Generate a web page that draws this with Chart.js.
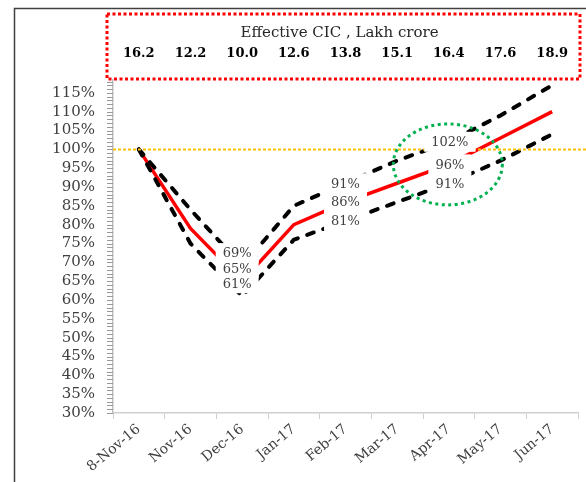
<!DOCTYPE html>
<html>
<head>
<meta charset="utf-8">
<script src="https://cdn.jsdelivr.net/npm/chart.js@4/dist/chart.umd.min.js"></script>
<style>
  html, body { margin: 0; padding: 0; background: #ffffff; }
  #wrap { position: relative; width: 586px; height: 482px; }
  canvas { display: block; }
</style>
</head>
<body>
<div id="wrap"><canvas id="c" width="586" height="482"></canvas></div>
<script>
// ---- Data ----
const categories = ['8-Nov-16', 'Nov-16', 'Dec-16', 'Jan-17', 'Feb-17', 'Mar-17', 'Apr-17', 'May-17', 'Jun-17'];
const cicValues = ['16.2', '12.2', '10.0', '12.6', '13.8', '15.1', '16.4', '17.6', '18.9'];
const upperBand = [100, 84, 69, 85, 91, 97, 102, 109, 117];
const central   = [100, 79, 65, 80, 86, 91, 96, 103, 110];
const lowerBand = [100, 75, 61, 76, 81, 86, 91, 97, 104];
const labelledPoints = [2, 4, 6];
const yMin = 30, yMax = 120, yLabelStep = 5, yMinorStep = 1;
const referenceLevel = 100;
const highlightIndex = 6, highlightValue = 96;
const boxTitle = 'Effective CIC , Lakh crore';

// ---- Styles / layout (not data) ----
const SERIF = '"DejaVu Serif", "Liberation Serif", serif';
const labelShift = { 2: [-5, -13], 4: [0, 0], 6: [1, 0] };

const decorPlugin = {
  id: 'decor',
  beforeDraw(chart) {
    const ctx = chart.ctx;
    ctx.save();
    ctx.fillStyle = '#ffffff';
    ctx.fillRect(0, 0, chart.width, chart.height);
    ctx.restore();
  },
  afterDatasetsDraw(chart) {
    const ctx = chart.ctx;
    const xs = chart.scales.x, ys = chart.scales.y;
    const area = chart.chartArea;

    // reference line at 100%
    ctx.save();
    ctx.strokeStyle = '#FFC000';
    ctx.lineWidth = 2;
    ctx.setLineDash([3, 2]);
    const yRef = Math.round(ys.getPixelForValue(referenceLevel)) + 0.5;
    ctx.beginPath();
    ctx.moveTo(area.left, yRef);
    ctx.lineTo(chart.width, yRef);
    ctx.stroke();
    ctx.restore();

    // data labels with white boxes
    ctx.save();
    ctx.font = '13px ' + SERIF;
    ctx.textAlign = 'center';
    ctx.textBaseline = 'middle';
    const series = [upperBand, central, lowerBand];
    labelledPoints.forEach(i => {
      const sh = labelShift[i] || [0, 0];
      series.forEach(arr => {
        const txt = arr[i] + '%';
        const x = xs.getPixelForValue(i) + sh[0];
        const y = ys.getPixelForValue(arr[i]) + sh[1];
        const w = ctx.measureText(txt).width + 14;
        ctx.fillStyle = '#ffffff';
        ctx.fillRect(x - w / 2, y - 10, w, 20);
      });
      series.forEach(arr => {
        const txt = arr[i] + '%';
        const x = xs.getPixelForValue(i) + sh[0];
        const y = ys.getPixelForValue(arr[i]) + sh[1];
        ctx.fillStyle = '#404040';
        ctx.fillText(txt, x, y + 1);
      });
    });
    ctx.restore();

    // green dotted ellipse
    ctx.save();
    ctx.strokeStyle = '#00B050';
    ctx.lineWidth = 3;
    ctx.setLineDash([3, 3.5]);
    ctx.beginPath();
    ctx.ellipse(xs.getPixelForValue(highlightIndex) - 1, ys.getPixelForValue(highlightValue),
      54.5, 40.5, 0, 0, Math.PI * 2);
    ctx.stroke();
    ctx.restore();
  },
  afterDraw(chart) {
    const ctx = chart.ctx;
    const xs = chart.scales.x, ys = chart.scales.y;
    const area = chart.chartArea;

    // ruler-style minor ticks on the y axis
    ctx.save();
    ctx.setLineDash([]);
    ctx.fillStyle = '#999999';
    for (let v = yMin; v <= yMax; v += yMinorStep) {
      const y = Math.round(ys.getPixelForValue(v));
      ctx.fillRect(area.left - 6, y, 6, 1);
    }
    ctx.restore();

    // outer frame
    ctx.save();
    ctx.strokeStyle = '#404040';
    ctx.lineWidth = 1.5;
    ctx.beginPath();
    ctx.moveTo(14.5, chart.height);
    ctx.lineTo(14.5, 8.5);
    ctx.lineTo(chart.width, 8.5);
    ctx.stroke();
    ctx.restore();

    // red dotted box with CIC values
    const bx = 107, by = 14, bw = 473, bh = 65;
    ctx.save();
    ctx.fillStyle = '#ffffff';
    ctx.fillRect(bx, by, bw, bh);
    ctx.strokeStyle = '#FF0000';
    ctx.lineWidth = 3;
    ctx.setLineDash([3, 2.5]);
    ctx.strokeRect(bx, by, bw, bh);
    ctx.restore();

    ctx.save();
    ctx.fillStyle = '#262626';
    ctx.textAlign = 'center';
    ctx.textBaseline = 'middle';
    ctx.font = '15px ' + SERIF;
    ctx.fillText(boxTitle, bx + bw / 2 - 4, 33);
    ctx.fillStyle = '#000000';
    ctx.font = 'bold 13px ' + SERIF;
    cicValues.forEach((v, i) => {
      ctx.fillText(v, xs.getPixelForValue(i), 54);
    });
    ctx.restore();
  }
};

new Chart(document.getElementById('c'), {
  type: 'line',
  data: {
    labels: categories,
    datasets: [
      {
        label: 'Upper', data: upperBand,
        borderColor: '#000000', borderWidth: 4, borderDash: [7, 10], borderCapStyle: 'round',
        pointRadius: 0, tension: 0, fill: false
      },
      {
        label: 'Lower', data: lowerBand,
        borderColor: '#000000', borderWidth: 4, borderDash: [7, 10], borderCapStyle: 'round',
        pointRadius: 0, tension: 0, fill: false
      },
      {
        label: 'Central', data: central,
        borderColor: '#FF0000', borderWidth: 3.5,
        pointRadius: 0, tension: 0, fill: false
      }
    ]
  },
  options: {
    responsive: false,
    animation: false,
    devicePixelRatio: 1,
    layout: { padding: { left: 0, right: 8, top: 74, bottom: 0 } },
    plugins: { legend: { display: false }, tooltip: { enabled: false } },
    scales: {
      x: {
        offset: true,
        grid: { offset: true, drawOnChartArea: false, tickLength: 6, color: '#d0d0d0', lineWidth: 1 },
        border: { color: '#d0d0d0', width: 1.5 },
        ticks: {
          minRotation: 40, maxRotation: 40, padding: 2,
          color: '#404040', font: { family: SERIF, size: 14 }
        },
        afterFit(scale) { scale.height = 69; }
      },
      y: {
        min: yMin, max: yMax,
        grid: { drawOnChartArea: false, tickLength: 6, color: 'rgba(0,0,0,0)', lineWidth: 1 },
        border: { color: '#bfbfbf', width: 1.5 },
        ticks: {
          stepSize: yLabelStep, autoSkip: false, padding: 12,
          color: '#404040', font: { family: SERIF, size: 15 },
          callback: (v) => (Math.round(v) < yMax) ? Math.round(v) + '%' : ''
        },
        afterFit(scale) { scale.width = 113; }
      }
    }
  },
  plugins: [decorPlugin]
});
</script>
</body>
</html>
